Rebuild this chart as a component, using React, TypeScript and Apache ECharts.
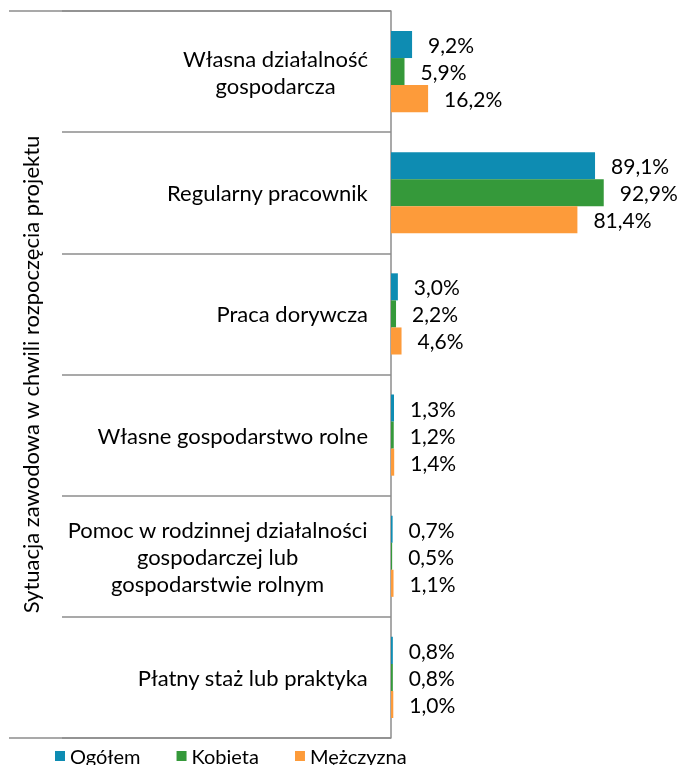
import React, { useEffect, useRef } from "react";
import * as echarts from "echarts";

const categories = [
  "Własna działalność\ngospodarcza",
  "Regularny pracownik",
  "Praca dorywcza",
  "Własne gospodarstwo rolne",
  "Pomoc w rodzinnej działalności\ngospodarczej lub\ngospodarstwie rolnym",
  "Płatny staż lub praktyka",
];
const ogolem = [9.2, 89.1, 3.0, 1.3, 0.7, 0.8];
const kobieta = [5.9, 92.9, 2.2, 1.2, 0.5, 0.8];
const mezczyzna = [16.2, 81.4, 4.6, 1.4, 1.1, 1.0];
const seriesNames = ["Ogółem", "Kobieta", "Mężczyzna"];
const colors = ["#0e8cb2", "#35993a", "#fd9b3a"];
const axisName = "Sytuacja zawodowa w chwili rozpoczęcia projektu";

const FONT = "Lato";

export default function App() {
  const ref = useRef<HTMLDivElement>(null);
  useEffect(() => {
    if (!ref.current) return;
    const chart = echarts.init(ref.current, null, { renderer: "svg" });
    const fmt = (p: any) => Number(p.value).toFixed(1).replace(".", ",") + "%";
    const mk = (name: string, data: number[], color: string) => ({
      name,
      type: "bar",
      data,
      yAxisIndex: 0,
      barGap: "0%",
      barCategoryGap: "33%",
      itemStyle: { color },
      label: {
        show: true,
        position: "right",
        distance: 16,
        formatter: fmt,
        color: "#000",
        fontFamily: FONT,
        fontSize: 21,
      },
    });
    chart.setOption({
      animation: false,
      textStyle: { fontFamily: FONT },
      grid: { left: 391, top: 11, bottom: 27, right: 61, containLabel: false },
      legend: {
        data: seriesNames,
        left: 50,
        top: 741,
        itemWidth: 10,
        itemHeight: 10,
        itemGap: 36,
        icon: "rect",
        textStyle: { fontFamily: FONT, fontSize: 20, color: "#000" },
      },
      xAxis: { type: "value", min: 0, max: 100, show: false },
      yAxis: [
        {
          type: "category",
          data: categories,
          inverse: true,
          position: "left",
          name: axisName,
          nameLocation: "middle",
          nameGap: 350,
          nameTextStyle: { fontFamily: FONT, fontSize: 22, color: "#000" },
          axisLine: { show: true, lineStyle: { color: "#8c8c8c", width: 1.5 } },
          axisTick: {
            show: true,
            interval: 0,
            length: 329,
            lineStyle: { color: "#8c8c8c", width: 1.5 },
          },
          axisLabel: {
            interval: 0,
            margin: 23,
            align: "right",
            formatter: (v: string) =>
              v
                .split("\n")
                .map((l) => "{c|" + l + "}")
                .join("\n"),
            rich: {
              c: {
                align: "center",
                fontFamily: FONT,
                fontSize: 22,
                lineHeight: 27,
                color: "#000",
              },
            },
          },
          splitLine: { show: false },
        },
        {
          type: "category",
          data: [""],
          position: "left",
          axisLine: { show: false },
          axisLabel: { show: false },
          axisTick: {
            show: true,
            length: 382,
            lineStyle: { color: "#8c8c8c", width: 1.5 },
          },
        },
      ],
      series: [
        mk(seriesNames[0], ogolem, colors[0]),
        mk(seriesNames[1], kobieta, colors[1]),
        mk(seriesNames[2], mezczyzna, colors[2]),
      ],
    });
    return () => chart.dispose();
  }, []);
  return (
    <div
      ref={ref}
      style={{ position: "fixed", left: 0, top: 0, width: 681, height: 765 }}
    />
  );
}
